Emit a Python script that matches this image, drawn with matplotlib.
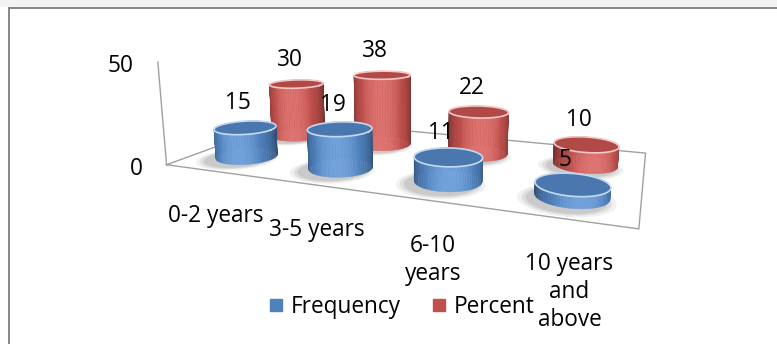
import numpy as np
import matplotlib
matplotlib.use("Agg")
import matplotlib.pyplot as plt
from matplotlib.lines import Line2D
from matplotlib.patches import Rectangle
from mpl_toolkits.mplot3d.art3d import Poly3DCollection
from mpl_toolkits.mplot3d import proj3d
from matplotlib.colors import to_rgb

# ---- data -------------------------------------------------------------
categories = ["0-2 years", "3-5 years", "6-10\nyears", "10 years\nand\nabove"]
frequency = [15, 19, 11, 5]
percent = [30, 38, 22, 10]
series_names = ["Frequency", "Percent"]
series_colors = ["#4F81BD", "#C0504D"]
rim_colors = ["#C6D9F1", "#F2C7C6"]
z_ticks = [0, 50]

plt.rcParams["font.family"] = ["Open Sans", "DejaVu Sans"]
FS = 16.3

fig = plt.figure(figsize=(7.77, 3.44), dpi=100)

# outer frame of the chart area
fig.add_artist(Rectangle((0, 1 - 7 / 344), 1, 7 / 344, transform=fig.transFigure,
                         facecolor="#F2F2F2", edgecolor="none"))
fig.add_artist(Line2D([8.5 / 777, 1], [1 - 7.5 / 344, 1 - 7.5 / 344],
                      transform=fig.transFigure, color="#868686", lw=1.4))
fig.add_artist(Line2D([8.5 / 777, 8.5 / 777], [0, 1 - 7.5 / 344],
                      transform=fig.transFigure, color="#868686", lw=1.4))

AZIM, ELEV = -68.4, 11.6
ax = fig.add_axes([0.3835, 0.343, 0.2909, 0.657], projection="3d",
                  proj_type="persp", focal_length=0.499)
ax.set_axis_off()
ax.patch.set_alpha(0)
ax.computed_zorder = False

n_cat = len(categories)
ax.set_xlim(0, n_cat)
ax.set_ylim(0, 2)
ax.set_zlim(0, 50)
ax.set_xticks([])
ax.set_yticks([])
ax.set_zticks([])
for axis in (ax.xaxis, ax.yaxis, ax.zaxis):
    axis.label.set_visible(False)
    axis.offsetText.set_visible(False)

box = (2.2, 1.1, 0.51)
ax.set_box_aspect(box, zoom=2.142)
ax.view_init(elev=ELEV, azim=AZIM)
M = ax.get_proj()


def label(x, y, z, s, dx, dy, **kw):
    """Place a 2D text at the projection of a 3D point, shifted by pixels."""
    X, Y, _ = proj3d.proj_transform(x, y, z, M)
    return ax.annotate(s, xy=(X, Y), xycoords="data", xytext=(dx, dy),
                       textcoords="offset pixels", fontsize=FS, annotation_clip=False,
                       zorder=50, **kw)


# ratio of data units so cylinders stay round in box space
sx = box[0] / n_cat
sy = box[1] / 2.0
rx = 0.28
ry = rx * sx / sy
depth = [0.5, 1.4]
view_theta = np.deg2rad(AZIM)

# floor outline and vertical axis
floor = np.array([[0, 0], [n_cat, 0], [n_cat, 2], [0, 2], [0, 0]])
ax.plot(floor[:, 0], floor[:, 1], np.zeros(len(floor)), color="#A0A0A0", lw=1.0, zorder=1)
ax.plot([0, 0], [0, 0], [z_ticks[0], z_ticks[-1]], color="#A0A0A0", lw=1.0, zorder=1)
for zt in z_ticks:
    label(0, 0, zt, str(zt), -24, -4, ha="right", va="center")


def shade(rgb, t):
    rgb = np.array(rgb)
    k = 0.62 + 0.5 * t
    c = rgb * k
    c = c + (1 - c) * max(0.0, t - 0.75) * 0.6
    return tuple(np.clip(c, 0, 1))


def cylinder(xc, yc, height, color, rim, zorder):
    n = 72
    th = np.linspace(0, 2 * np.pi, n + 1)
    xs = xc + rx * np.cos(th)
    ys = yc + ry * np.sin(th)
    base = to_rgb(color)
    # soft shadow on the floor
    for s, a in [(1.3, 0.10), (1.18, 0.14), (1.07, 0.18)]:
        sh = [list(zip(xc - 0.03 + rx * s * np.cos(th), yc - 0.1 + ry * s * np.sin(th),
                       np.zeros(n + 1)))]
        ax.add_collection3d(Poly3DCollection(sh, facecolors=(0.45, 0.45, 0.45, a),
                                             edgecolors="none", zorder=2))
    polys, cols = [], []
    for k in range(n):
        polys.append([(xs[k], ys[k], 0), (xs[k + 1], ys[k + 1], 0),
                      (xs[k + 1], ys[k + 1], height), (xs[k], ys[k], height)])
        mid = 0.5 * (th[k] + th[k + 1])
        t = np.cos(mid - view_theta)
        cols.append(shade(base, max(t, 0)))
    polys.append(list(zip(xs, ys, np.full(n + 1, height))))
    cols.append(tuple(np.array(base) * 0.92))
    pc = Poly3DCollection(polys, facecolors=cols, edgecolors=cols, linewidths=0.3,
                          zorder=zorder)
    ax.add_collection3d(pc)
    ax.plot(xs, ys, np.full(n + 1, height), color=rim, lw=1.2, zorder=zorder + 0.5)


order = 3
for s_idx in (1, 0):
    vals = [frequency, percent][s_idx]
    for i, v in enumerate(vals):
        cylinder(i + 0.5, depth[s_idx], v, series_colors[s_idx], rim_colors[s_idx], order)
        order += 1
        label(i + 0.5, depth[s_idx], v, str(v), -7, 24, ha="center", va="center")

for i, lab in enumerate(categories):
    label(i + 0.55, 0, 0, lab, 0, -33, ha="center", va="top", linespacing=1.2)

for art in ax.get_children():
    art.set_clip_on(False)

handles = [Line2D([], [], marker="s", ls="none", markersize=8, color=c) for c in series_colors]
fig.legend(handles, series_names, loc="center", bbox_to_anchor=(0.518, 0.108), ncol=2,
           frameon=False, fontsize=FS, handlelength=0.5, handletextpad=0.4, columnspacing=1.4)

fig.savefig("out.png", dpi=100)
